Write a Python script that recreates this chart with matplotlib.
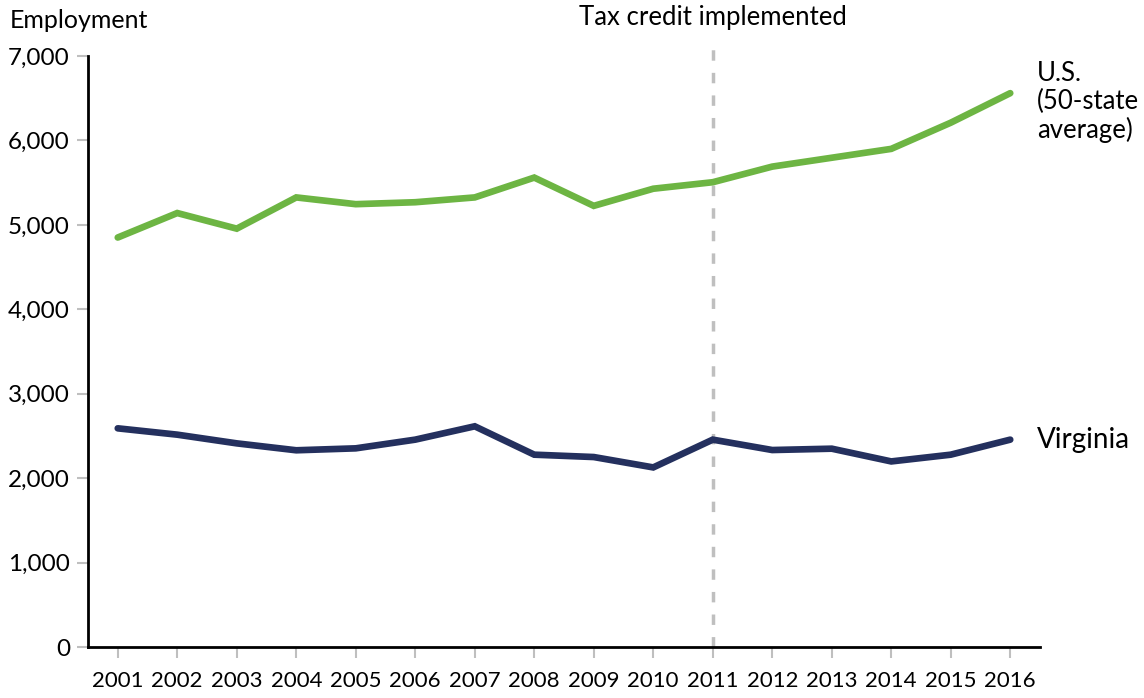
import matplotlib
matplotlib.use("Agg")
import matplotlib.pyplot as plt

years = list(range(2001, 2017))
us_avg = [4850, 5140, 4955, 5325, 5245, 5268, 5325, 5560, 5225, 5428, 5505, 5690, 5795, 5900, 6210, 6560]
virginia = [2590, 2515, 2412, 2330, 2353, 2456, 2614, 2278, 2250, 2127, 2456, 2333, 2349, 2198, 2278, 2456]
yticks = [0, 1000, 2000, 3000, 4000, 5000, 6000, 7000]
policy_year = 2011

plt.rcParams['font.family'] = ['Lato', 'DejaVu Sans']

fig = plt.figure(figsize=(11.44, 6.98), dpi=100)
ax = fig.add_axes([88/1144, 1 - 647/698, (1040-88)/1144, (647-56)/698])

ax.plot(years, us_avg, color='#6db543', lw=4.8, solid_capstyle='round', solid_joinstyle='miter', zorder=3)
ax.plot(years, virginia, color='#24305e', lw=4.8, solid_capstyle='round', solid_joinstyle='miter', zorder=3)
ax.plot([policy_year, policy_year], [0, 7200], color='#bfbfbf', lw=2.5, ls=(0, (3, 3.5)), clip_on=False, zorder=2)

ax.set_xlim(2000.5, 2016.5)
ax.set_ylim(0, 7000)
ax.set_xticks(years)
ax.set_xticklabels([str(y) for y in years])
ax.set_yticks(yticks)
ax.set_yticklabels([f"{v:,}" for v in yticks])
for s in ['top', 'right']:
    ax.spines[s].set_visible(False)
for s in ['left', 'bottom']:
    ax.spines[s].set_linewidth(2)
    ax.spines[s].set_color('black')
ax.tick_params(axis='both', colors='#bfbfbf', labelcolor='black', length=8, width=1.5)
ax.tick_params(axis='x', pad=9, labelsize=16)
ax.tick_params(axis='y', pad=5, labelsize=17.5)

fig.text(10/1144, 1 - 20/698, "Employment", fontsize=18, va='center', ha='left')
fig.text(713/1144, 1 - 18/698, "Tax credit implemented", fontsize=18.5, va='center', ha='center')
fig.text(1037/1144, 1 - 102/698, "U.S.\n(50-state\naverage)", fontsize=18.5, va='center', ha='left', linespacing=1.12)
fig.text(1037/1144, 1 - 440/698, "Virginia", fontsize=20, va='center', ha='left')

fig.savefig("out.png", dpi=100)
